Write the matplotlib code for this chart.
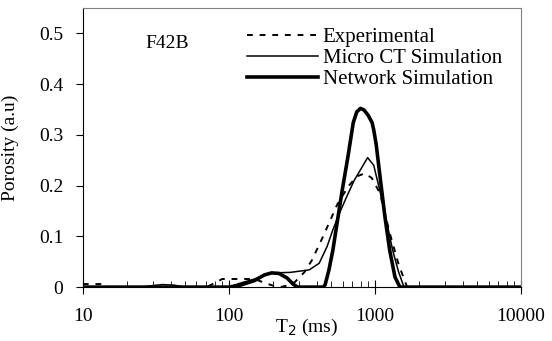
import matplotlib
matplotlib.use("Agg")
import matplotlib.pyplot as plt

plt.rcParams['font.family'] = ['Liberation Serif', 'DejaVu Serif']

# T2 (ms) and porosity values
exp_t = [10, 14, 15, 70, 80, 90, 150, 177, 200, 225, 250, 283, 330, 370, 440, 500, 550,
         655, 750, 850, 950, 1080, 1260, 1450, 1660, 2000, 10000]
exp_p = [0.006, 0.006, 0.0, 0.0, 0.008, 0.016, 0.016, 0.008, 0.003, 0.0, 0.003, 0.01, 0.03,
         0.053, 0.099, 0.135, 0.162, 0.198, 0.218, 0.224, 0.215, 0.185, 0.107, 0.045, 0.0, 0.0, 0.0]

ct_t = [10, 25, 30, 35, 42, 50, 100, 120, 150, 180, 200, 263, 355, 415, 470, 515, 570, 640,
        720, 795, 890, 980, 1080, 1200, 1320, 1450, 1580, 10000]
ct_p = [0.0, 0.0, 0.003, 0.005, 0.004, 0.0, 0.0, 0.008, 0.016, 0.025, 0.028, 0.029, 0.034,
        0.047, 0.08, 0.113, 0.145, 0.178, 0.21, 0.231, 0.255, 0.24, 0.19, 0.13, 0.073, 0.03, 0.0, 0.0]

net_t = [10, 100, 120, 150, 175, 196, 220, 250, 275, 295, 440, 455, 484, 515, 550, 596,
         653, 710, 750, 795, 840, 900, 955, 980, 1020, 1075, 1170, 1260, 1370, 1480, 10000]
net_p = [0.0, 0.0, 0.004, 0.013, 0.024, 0.028, 0.027, 0.018, 0.006, 0.0, 0.0, 0.004, 0.034,
         0.073, 0.126, 0.19, 0.257, 0.324, 0.345, 0.352, 0.349, 0.338, 0.324, 0.31, 0.28,
         0.225, 0.138, 0.073, 0.02, 0.0, 0.0]

fig, ax = plt.subplots(figsize=(5.52, 3.41), dpi=100)
fig.subplots_adjust(left=0.150, right=0.944, bottom=0.158, top=0.977)

ax.plot(exp_t, exp_p, color='black', lw=1.4, dashes=(3, 3.5), label='Experimental')
ax.plot(ct_t, ct_p, color='black', lw=1.1, label='Micro CT Simulation')
ax.plot(net_t, net_p, color='black', lw=2.6, label='Network Simulation',
        solid_joinstyle='round')

ax.set_xscale('log')
ax.set_xlim(10, 10000)
ax.set_ylim(0, 0.55)
ax.set_yticks([0, 0.1, 0.2, 0.3, 0.4, 0.5])
ax.set_yticklabels(['0', '0.1', '0.2', '0.3', '0.4', '0.5'])
ax.set_xticks([10, 100, 1000, 10000])
ax.set_xticklabels(['10', '100', '1000', '10000'])

ax.tick_params(axis='x', which='major', direction='inout', length=10, pad=10, labelsize=14)
ax.tick_params(axis='x', which='minor', direction='in', length=4)
ax.tick_params(axis='y', which='major', direction='out', length=5, pad=9, labelsize=14)

for s in ['left', 'bottom']:
    ax.spines[s].set_color('black')
for s in ['top', 'right']:
    ax.spines[s].set_color('#808080')

ax.set_ylabel('Porosity (a.u)', fontsize=14)
ax.yaxis.set_label_coords(-0.145, 0.5)
ax.set_xlabel('T$_2$ (ms)', fontsize=14)
ax.xaxis.set_label_coords(0.51, -0.105)

ax.text(0.142, 0.871, 'F42B', transform=ax.transAxes, fontsize=14, va='center')

ax.legend(loc='upper left', bbox_to_anchor=(0.374, 0.93), frameon=False, fontsize=15,
          handlelength=3.4, handletextpad=0.25, labelspacing=0.08, borderpad=0,
          borderaxespad=0)

fig.savefig('out.png', dpi=100)
